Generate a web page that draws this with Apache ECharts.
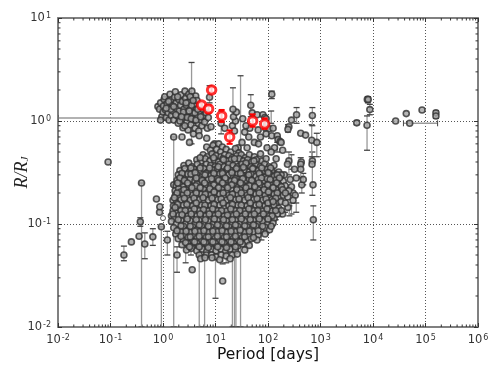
<!DOCTYPE html>
<html lang="en">
  <head>
    <meta charset="UTF-8" />
    <title>Period vs radius</title>
    <style>
      html, body { margin: 0; padding: 0; background: #fff; }
      #app { width: 498px; height: 375px; }
    </style>
  </head>
  <body>
    <div id="app"></div>
    <script src="https://cdn.jsdelivr.net/npm/echarts@6/dist/echarts.min.js"></script>
    <script>
      // [period, radius]
      var shortPeriod = [
        [0.09,0.4],[0.39,0.25],[0.18,0.05],[0.25,0.067],[0.35,0.076],[0.37,0.105],[0.45,0.064],[0.64,0.075],
        [0.93,0.094],[0.86,0.13],[0.87,0.147],[0.75,0.175],[1.21,0.07],[1.85,0.05],[3.6,0.036],[13.7,0.028],
        [1.6,0.24],[1.6,0.7]
      ]
      var openPoints = [[1.0,0.114]]

      var upperCloud = [
        [0.8,1.38],[0.86,1.3],[0.9,1.5],[0.95,1.1],[0.9,1.02],[1.0,1.22],[1.02,1.4],[1.05,1.62],[1.08,1.72],[1.12,1.28],
        [1.15,1.08],[1.2,1.48],[1.25,1.2],[1.3,1.02],[1.32,1.35],[1.36,1.82],[1.42,1.6],[1.45,1.13],[1.5,1.42],[1.55,1.25],
        [1.6,1.02],[1.66,1.7],[1.72,1.92],[1.78,1.5],[1.82,1.32],[1.9,1.12],[1.95,0.95],[2.0,1.62],[2.05,1.25],[2.15,1.42],
        [2.2,1.8],[2.3,1.05],[2.35,1.55],[2.4,0.86],[2.5,1.3],[2.55,1.15],[2.62,1.95],[2.7,1.66],[2.8,1.42],[2.85,0.98],
        [2.95,1.22],[3.0,0.82],[3.1,1.82],[3.2,1.55],[3.25,1.08],[3.35,1.32],[3.4,0.92],[3.55,1.95],[3.6,1.68],[3.7,1.2],
        [3.8,0.75],[3.9,1.45],[4.0,1.02],[4.1,0.85],[4.2,1.75],[4.3,1.3],[4.45,1.58],[4.55,1.12],[4.7,0.95],[4.8,0.8],
        [4.95,1.42],[5.1,1.22],[5.3,1.02],[5.5,0.9],[5.7,1.3],[5.9,1.13],[6.2,0.98],[6.6,1.2],[7.0,0.85],[7.3,1.08],
        [2.1,1.0],[2.6,0.9],[3.05,1.52],[3.3,1.72],[1.75,1.15],[2.45,1.22],[2.9,1.08],[3.5,1.42],[4.05,1.2],[1.4,1.3],
        [1.15,1.33],[1.28,1.55],[1.6,1.38],[1.9,1.72],[2.25,1.1],[2.75,1.5],[3.15,1.25],[3.45,1.05],[3.75,1.58],[4.25,1.02],[4.6,1.3],[5.2,1.1]
      ]
      var middleScatter = [
        [3.2,0.62],[2.3,0.7],[4.9,0.72],[6.8,0.68],[8.2,0.88],[7.7,1.7],[6.8,0.56],[9.6,0.6],[12.8,0.95],[15,0.85],
        [21,0.9],[23,0.8],[27,0.55],[24,1.0],[22,1.1],[25,1.22],[21.5,1.3],[47,1.42],[50,1.2],[45,0.85],
        [43,0.7],[32,0.62],[38,0.9],[55,0.62],[40,0.55],[65,0.82],[72,0.7],[66,0.6],[33,1.05],[36,0.78],
        [118,1.82],[62,1.15],[80,1.15],[87,1.08],[92,1.05],[93,0.92],[90,0.85],[105,0.84],[125,0.85],[92,0.75],
        [118,0.72],[150,0.72],[155,0.66],[170,0.63],[178,0.62],[280,1.02],[250,0.88],[240,0.83],[350,1.15],[420,0.76],
        [520,0.73],[96,0.55],[133,0.55],[143,0.43],[190,0.52],[250,0.41],[235,0.38],[430,0.4],[420,0.38],[320,0.34],
        [345,0.28],[440,0.24],[205,0.3],[135,0.31],[150,0.26],[95,0.33],[115,0.5],
        [300,0.2],[330,0.19],[280,0.23],[265,0.27],[300,0.17],[240,0.145],[190,0.125]
      ]
      var lowerCloud = [
        [9.0,0.58],[11.5,0.6],[13.5,0.56],[8.0,0.52],[10.5,0.53],[12.5,0.5],[16,0.53],[19.5,0.5],[24,0.54],[28,0.49],
        [5.8,0.47],[7,0.45],[8.6,0.48],[10.2,0.46],[12.7,0.45],[15,0.47],[18,0.46],[21,0.44],[25.5,0.46],[31,0.47],[37,0.44],[44,0.47],[55,0.45],[72,0.48],
        [4.4,0.42],[5.2,0.4],[6.4,0.43],[7.8,0.41],[9.5,0.42],[11.4,0.4],[13.8,0.43],[16.5,0.41],[20,0.42],[24,0.4],[28,0.43],[34,0.41],[41,0.42],[49,0.4],[60,0.42],[78,0.41],[92,0.43],
        [2.5,0.37],[3.1,0.39],[3.6,0.36],[4.5,0.38],[5.5,0.36],[6.7,0.38],[8.1,0.37],[9.8,0.36],[12.2,0.38],[14.6,0.36],[18,0.38],[21.5,0.37],[26.5,0.36],[32,0.38],[39,0.37],[47,0.36],[58,0.38],[71,0.36],[86,0.38],[105,0.36],[130,0.37],
        [2.1,0.33],[2.6,0.345],[3.2,0.32],[3.9,0.34],[4.8,0.33],[6,0.345],[7.2,0.32],[8.9,0.335],[10.9,0.345],[13.2,0.32],[16.4,0.34],[19.8,0.33],[24,0.32],[29,0.34],[36,0.335],[44,0.32],[53,0.345],[65,0.33],[79,0.32],[97,0.34],[118,0.33],[160,0.32],
        [1.95,0.3],[2.4,0.285],[2.95,0.305],[3.65,0.29],[4.45,0.3],[5.4,0.285],[6.6,0.31],[8.1,0.295],[9.9,0.285],[12,0.305],[14.7,0.29],[18,0.3],[22,0.285],[26.5,0.31],[32.5,0.295],[40,0.285],[48,0.305],[59,0.29],[72,0.3],[88,0.285],[107,0.305],[131,0.29],[178,0.3],
        [1.85,0.265],[2.25,0.275],[2.75,0.255],[3.3,0.27],[4.05,0.26],[4.9,0.275],[6.1,0.255],[7.3,0.27],[8.9,0.26],[10.9,0.275],[13.3,0.255],[16.2,0.27],[19.8,0.26],[24,0.275],[29.5,0.255],[36,0.265],[44,0.275],[53,0.255],[65,0.27],[79,0.26],[97,0.275],[118,0.255],[144,0.27],[195,0.26],
        [1.78,0.235],[2.05,0.245],[2.45,0.23],[3.05,0.24],[3.65,0.23],[4.45,0.245],[5.45,0.225],[6.6,0.24],[8.1,0.23],[9.9,0.245],[12.1,0.225],[14.7,0.24],[18,0.23],[22,0.245],[26.5,0.225],[32.5,0.24],[40,0.23],[48,0.245],[59,0.225],[72,0.24],[88,0.23],[107,0.245],[131,0.225],[160,0.24],[212,0.235],
        [1.7,0.21],[1.98,0.22],[2.2,0.205],[2.7,0.215],[3.3,0.205],[4,0.22],[4.9,0.2],[6,0.215],[7.3,0.205],[8.9,0.22],[10.9,0.2],[13.3,0.215],[16.2,0.205],[19.8,0.22],[24,0.2],[29,0.215],[36,0.205],[44,0.22],[53,0.2],[65,0.215],[79,0.205],[97,0.22],[118,0.2],[144,0.215],[176,0.205],[250,0.21],
        [1.72,0.19],[2.0,0.18],[2.45,0.195],[3.0,0.18],[3.65,0.19],[4.45,0.178],[5.4,0.195],[6.6,0.182],[8.1,0.19],[9.9,0.178],[12,0.195],[14.7,0.182],[18,0.19],[22,0.178],[26.5,0.195],[32.5,0.182],[40,0.19],[48,0.178],[59,0.195],[72,0.182],[88,0.19],[107,0.178],[131,0.195],[160,0.182],[195,0.19],[238,0.183],
        [1.55,0.17],[1.8,0.16],[2.2,0.172],[2.7,0.16],[3.3,0.17],[4,0.158],[4.9,0.172],[6,0.16],[7.3,0.17],[8.9,0.158],[10.9,0.172],[13.3,0.16],[16.2,0.17],[19.8,0.158],[24,0.172],[29,0.16],[36,0.17],[44,0.158],[53,0.172],[65,0.16],[79,0.17],[97,0.158],[118,0.172],[144,0.16],[176,0.165],[215,0.16],
        [1.58,0.15],[1.98,0.142],[2.45,0.152],[3,0.14],[3.65,0.15],[4.45,0.14],[5.4,0.152],[6.6,0.142],[8.1,0.15],[9.9,0.14],[12,0.152],[14.7,0.142],[18,0.15],[22,0.14],[26.5,0.152],[32.5,0.142],[40,0.15],[48,0.14],[59,0.152],[72,0.142],[88,0.15],[107,0.14],[131,0.152],[160,0.142],[180,0.135],
        [1.55,0.134],[1.8,0.127],[2.2,0.135],[2.7,0.125],[3.3,0.133],[4,0.125],[4.9,0.135],[6,0.127],[7.3,0.134],[8.9,0.125],[10.9,0.135],[13.3,0.127],[16.2,0.133],[19.8,0.125],[24,0.135],[29,0.127],[36,0.133],[44,0.125],[53,0.135],[65,0.127],[79,0.133],[97,0.125],[118,0.133],[150,0.125],
        [1.45,0.12],[1.65,0.113],[2,0.121],[2.45,0.112],[3,0.12],[3.65,0.111],[4.45,0.12],[5.4,0.113],[6.6,0.12],[8.1,0.111],[9.9,0.121],[12,0.113],[14.7,0.12],[18,0.111],[22,0.121],[26.5,0.113],[32.5,0.12],[40,0.111],[48,0.121],[59,0.113],[72,0.12],[88,0.111],[107,0.12],[131,0.113],
        [1.45,0.106],[1.8,0.1],[2.2,0.108],[2.7,0.1],[3.3,0.107],[4,0.099],[4.9,0.108],[6,0.1],[7.3,0.106],[8.9,0.099],[10.9,0.108],[13.3,0.1],[16.2,0.107],[19.8,0.099],[24,0.108],[29,0.1],[36,0.106],[44,0.099],[53,0.108],[65,0.1],[79,0.106],[97,0.099],[125,0.102],
        [1.6,0.092],[2,0.088],[2.45,0.095],[3,0.087],[3.65,0.094],[4.45,0.088],[5.4,0.095],[6.6,0.087],[8.1,0.094],[9.9,0.088],[12,0.095],[14.7,0.087],[18,0.094],[22,0.088],[26.5,0.095],[32.5,0.087],[40,0.094],[48,0.088],[59,0.095],[72,0.087],[88,0.093],[107,0.088],
        [1.75,0.08],[2.2,0.084],[2.7,0.078],[3.3,0.083],[4,0.077],[4.9,0.084],[6,0.078],[7.3,0.083],[8.9,0.077],[10.9,0.084],[13.3,0.078],[16.2,0.083],[19.8,0.077],[24,0.084],[29,0.078],[36,0.083],[44,0.077],[53,0.084],[65,0.078],[88,0.08],
        [1.95,0.072],[2.45,0.069],[3,0.074],[3.65,0.068],[4.45,0.073],[5.4,0.069],[6.6,0.074],[8.1,0.068],[9.9,0.073],[12,0.069],[14.7,0.074],[18,0.068],[22,0.073],[26.5,0.069],[32.5,0.074],[40,0.068],[48,0.072],[62,0.07],
        [2.3,0.063],[2.95,0.065],[3.65,0.061],[4.45,0.065],[5.4,0.061],[6.6,0.065],[8.1,0.061],[9.9,0.065],[12,0.061],[14.7,0.065],[18,0.061],[22,0.065],[26.5,0.061],[32.5,0.064],[44,0.062],
        [2.8,0.056],[3.5,0.058],[4.4,0.055],[5.6,0.057],[6.8,0.054],[8.3,0.057],[10.2,0.055],[12.8,0.057],[15.5,0.054],[19,0.057],[24,0.055],[36,0.056],
        [4.9,0.05],[5.2,0.046],[6.7,0.05],[8.4,0.05],[10.3,0.048],[12.9,0.05],[16,0.049],[21,0.05],[26,0.051],[6.3,0.047],[8.6,0.047],[12,0.045],[19,0.046]
      ]
      // second pass over the dense part of the cloud
      var lowerCloudDense = [
        [5.1,0.44],[9.2,0.44],[14.2,0.42],[23,0.43],[38,0.39],[54,0.41],[3.4,0.35],[5.1,0.35],[7.7,0.35],[11.3,0.36],[17,0.35],[25,0.345],[34,0.355],[51,0.345],[76,0.35],[112,0.35],
        [2.3,0.31],[3.4,0.305],[4.1,0.315],[6.3,0.3],[9.3,0.31],[13.6,0.31],[20.5,0.315],[30,0.31],[43,0.3],[68,0.31],[101,0.315],[150,0.3],
        [2.1,0.28],[2.55,0.265],[4.3,0.28],[5.6,0.265],[8.4,0.275],[11.5,0.265],[15.3,0.28],[23,0.265],[33,0.275],[49,0.265],[75,0.28],[110,0.27],[165,0.28],
        [1.9,0.25],[2.95,0.25],[4.2,0.235],[6.2,0.25],[9.3,0.24],[13.6,0.25],[20.3,0.24],[30,0.25],[44,0.235],[67,0.25],[99,0.24],[146,0.25],[180,0.23],
        [2.5,0.215],[3.55,0.225],[5.1,0.225],[7.8,0.22],[11.4,0.225],[17,0.225],[25.5,0.215],[38,0.225],[56,0.23],[84,0.215],[125,0.225],[190,0.215],
        [1.85,0.2],[2.9,0.2],[4.3,0.2],[6.4,0.195],[9.4,0.205],[14,0.2],[21,0.195],[31,0.2],[46,0.205],[68,0.2],[102,0.205],[150,0.2],[215,0.2],
        [1.65,0.18],[2.55,0.178],[3.9,0.178],[5.8,0.18],[8.6,0.178],[12.8,0.175],[19.2,0.18],[28,0.175],[42,0.18],[62,0.176],[92,0.175],[140,0.178],
        [1.9,0.155],[2.85,0.155],[4.3,0.16],[6.3,0.152],[9.4,0.155],[14,0.16],[21,0.155],[31,0.152],[46,0.16],[68,0.155],[100,0.16],[125,0.165],
        [1.7,0.145],[2.65,0.135],[3.95,0.14],[5.9,0.138],[8.8,0.14],[13,0.135],[19.5,0.14],[29,0.135],[43,0.14],[64,0.135],[96,0.14],[140,0.135],
        [1.55,0.125],[2.3,0.123],[3.45,0.125],[5.1,0.125],[7.6,0.125],[11.3,0.125],[16.9,0.122],[25,0.125],[37,0.125],[55,0.125],[82,0.125],[120,0.12],
        [1.95,0.11],[2.9,0.112],[4.3,0.11],[6.4,0.11],[9.5,0.112],[14.2,0.11],[21,0.11],[31,0.112],[46,0.11],[68,0.112],[100,0.112],
        [2.2,0.096],[3.3,0.095],[4.9,0.098],[7.3,0.095],[10.9,0.098],[16.2,0.096],[24,0.098],[36,0.096],[53,0.098],[79,0.095],[115,0.095],
        [1.85,0.086],[2.75,0.085],[4.05,0.085],[6,0.086],[8.9,0.085],[13.3,0.086],[19.8,0.085],[29.5,0.087],[44,0.085],[65,0.086],
        [2.2,0.076],[3.3,0.075],[4.9,0.076],[7.3,0.075],[10.9,0.076],[16.2,0.075],[24,0.076],[36,0.075],[53,0.074],
        [2.7,0.066],[4,0.067],[6,0.067],[8.9,0.067],[13.3,0.067],[19.8,0.067],[29.5,0.067],
        [3.2,0.06],[4.9,0.06],[7.3,0.059],[11,0.06],[16.2,0.059],[24,0.06]
      ]
      var longPeriod = [
        [4900,0.96],[7800,1.62],[8100,1.62],[8700,1.29],[7700,0.91],[27000,1.0],[43000,1.18],[50000,0.95],[86000,1.28],[158000,1.2],[158000,1.12],
        [700,1.13],[680,0.65],[850,0.62],[700,0.41],[690,0.38],[720,0.24],[730,0.11],[420,0.34],[470,0.27]
      ]
      var highlighted = [[5.43,1.43],[7.38,1.31],[8.43,2.0],[13.1,1.12],[18.6,0.7],[51,1.0],[86.5,0.935]]
      var highlightedErr = [[5.43,1.3,1.5],[7.38,1.2,1.42],[8.43,1.9,2.12],[13.1,0.98,1.28],[18.6,0.6,0.81],[51,0.88,1.16],[86.5,0.84,1.06]]

      // [period, low, high]
      var errBars = [
        [0.39,0.01,0.25],[0.37,0.095,0.115],[0.18,0.044,0.061],[0.45,0.046,0.082],[0.64,0.062,0.09],[0.93,0.01,0.094],
        [1.21,0.05,0.085],[1.6,0.01,0.7],[1.85,0.034,0.06],[4.9,0.01,0.06],[6.2,0.01,0.06],[10,0.019,0.065],
        [21,0.01,0.08],[23,0.01,0.08],[24.5,0.01,0.08],[30,0.01,0.07],[2.7,0.042,0.07],[3.4,0.05,0.07],[5.3,0.05,0.07],
        [3.5,0.6,3.7],[21.5,0.95,2.1],[30,0.2,2.75],[12.8,0.75,1.25],[7.7,1.5,2.2],[47,1.1,1.8],
        [13.7,0.041,0.06],[16,0.042,0.055],[36,0.06,0.09],[45,0.08,0.1],[58,0.075,0.1],[75,0.07,0.1],[95,0.082,0.11],
        [120,0.095,0.125],[165,0.118,0.14],[280,0.125,0.16],[255,0.12,0.15],[210,0.13,0.17],[140,0.11,0.15],[120,0.16,0.2],
        [730,0.07,0.15],[700,0.19,0.5],[680,0.45,0.92],[850,0.45,0.76],[700,0.9,1.35],[7700,0.52,1.12],[8700,1.15,1.45],
        [8000,1.5,1.72],[440,0.2,0.29],[470,0.24,0.31],[420,0.28,0.44],[345,0.13,0.16],[280,0.34,0.47],[250,0.3,0.5],
        [150,0.5,0.62],[240,0.78,0.92],[350,0.95,1.35],[115,0.95,1.25],[118,1.65,1.95],[4900,0.92,1.01],[158000,1.06,1.26]
      ]
      // [radius, low, high]
      var errBarsX = [[1.07,0.01,1.05],[0.95,38000,170000]]
      var minorSteps = [2, 3, 4, 5, 6, 7, 8, 9]
      var xDecades = [0.01, 0.1, 1, 10, 100, 1000, 10000, 100000]
      var yDecades = [0.01, 0.1, 1]

      var tickFormat = function (v) {
        return '{b|10}{s|' + Math.round(Math.log10(v)) + '}'
      }
      var tickRich = {
        b: { fontSize: 11.5, color: '#333', fontFamily: 'DejaVu Sans' },
        s: { fontSize: 8, color: '#333', fontFamily: 'DejaVu Sans', verticalAlign: 'top', padding: [0, 0, 5, 1] }
      }
      var axisBase = function (pos, showLabel, min, max) {
        return {
          type: 'log',
          logBase: 10,
          position: pos,
          min: min,
          max: max,
          axisLine: { show: true, onZero: false, lineStyle: { color: '#808080', width: 2 } },
          axisTick: { show: true, inside: true, length: 4, lineStyle: { color: '#333', width: 1 } },
          axisLabel: { show: showLabel, formatter: tickFormat, rich: tickRich, margin: 7, hideOverlap: false },
          splitLine: { show: showLabel, lineStyle: { color: '#555', type: [1, 2], width: 1 } }
        }
      }

      var xMain = axisBase('bottom', true, 0.01, 1000000)
      xMain.name = 'Period [days]'
      xMain.nameLocation = 'middle'
      xMain.nameGap = 20
      xMain.nameMoveOverlap = false
      xMain.nameTextStyle = { fontSize: 15.5, color: '#111', fontFamily: 'DejaVu Sans' }

      var yMain = axisBase('left', true, 0.01, 10)
      yMain.name = '{r|R/R}{j|J}'
      yMain.nameLocation = 'middle'
      yMain.nameGap = 27
      yMain.nameMoveOverlap = false
      yMain.nameTextStyle = {
        rich: {
          r: { fontSize: 18, fontStyle: 'italic', fontFamily: 'Liberation Serif', color: '#222' },
          j: { fontSize: 11, fontStyle: 'italic', fontFamily: 'Liberation Serif', color: '#222', verticalAlign: 'bottom', padding: [6, 0, 0, 0] }
        }
      }

      var symbolStyle = { color: '#a6a6a6', borderColor: '#333', borderWidth: 1.6, opacity: 0.82 }

      function errorItem(color, capColor, width) {
        return function (params, api) {
          var top = api.coord([api.value(0), api.value(2)])
          var bottom = api.coord([api.value(0), api.value(1)])
          var cap = 3
          return {
            type: 'group',
            children: [
              { type: 'line', shape: { x1: top[0], y1: top[1], x2: bottom[0], y2: bottom[1] }, style: { stroke: color, lineWidth: width } },
              { type: 'line', shape: { x1: top[0] - cap, y1: top[1], x2: top[0] + cap, y2: top[1] }, style: { stroke: capColor, lineWidth: width } },
              { type: 'line', shape: { x1: bottom[0] - cap, y1: bottom[1], x2: bottom[0] + cap, y2: bottom[1] }, style: { stroke: capColor, lineWidth: width } }
            ]
          }
        }
      }
      function errorItemX(params, api) {
        var a = api.coord([api.value(1), api.value(0)])
        var b = api.coord([api.value(2), api.value(0)])
        return {
          type: 'group',
          children: [
            { type: 'line', shape: { x1: a[0], y1: a[1], x2: b[0], y2: b[1] }, style: { stroke: '#999', lineWidth: 1.5 } },
            { type: 'line', shape: { x1: a[0], y1: a[1] - 3, x2: a[0], y2: a[1] + 3 }, style: { stroke: '#444', lineWidth: 1 } },
            { type: 'line', shape: { x1: b[0], y1: b[1] - 3, x2: b[0], y2: b[1] + 3 }, style: { stroke: '#444', lineWidth: 1 } }
          ]
        }
      }

      // the log axis gives no minor ticks here, so draw them through the scale on all four sides
      var xMinor = []
      xDecades.forEach(function (d) {
        minorSteps.forEach(function (s) { xMinor.push([d * s]) })
      })
      var yMinor = []
      yDecades.forEach(function (d) {
        minorSteps.forEach(function (s) { yMinor.push([d * s]) })
      })
      function minorX(params, api) {
        var v = api.value(0)
        var lo = api.coord([v, 0.01])
        var hi = api.coord([v, 10])
        return {
          type: 'group',
          children: [
            { type: 'line', shape: { x1: lo[0], y1: lo[1], x2: lo[0], y2: lo[1] - 2.5 }, style: { stroke: '#333', lineWidth: 1 } },
            { type: 'line', shape: { x1: hi[0], y1: hi[1], x2: hi[0], y2: hi[1] + 2.5 }, style: { stroke: '#333', lineWidth: 1 } }
          ]
        }
      }
      function minorY(params, api) {
        var v = api.value(0)
        var lo = api.coord([0.01, v])
        var hi = api.coord([1000000, v])
        return {
          type: 'group',
          children: [
            { type: 'line', shape: { x1: lo[0], y1: lo[1], x2: lo[0] + 2.5, y2: lo[1] }, style: { stroke: '#333', lineWidth: 1 } },
            { type: 'line', shape: { x1: hi[0], y1: hi[1], x2: hi[0] - 2.5, y2: hi[1] }, style: { stroke: '#333', lineWidth: 1 } }
          ]
        }
      }

      var scatterOf = function (data, z) {
        return { type: 'scatter', data: data, symbolSize: 6, itemStyle: symbolStyle, z: z, silent: true, animation: false }
      }

      var chart = echarts.init(document.getElementById('app'), null, { renderer: 'canvas' })
      chart.setOption({
        animation: false,
        backgroundColor: '#fff',
        grid: { left: 58, right: 20, top: 18, bottom: 48, outerBoundsMode: 'none' },
        xAxis: [xMain, axisBase('top', false, 0.01, 1000000)],
        yAxis: [yMain, axisBase('right', false, 0.01, 10)],
        series: [
          { type: 'custom', renderItem: minorX, data: xMinor, encode: { x: 0 }, z: 1, silent: true },
          { type: 'custom', renderItem: minorY, data: yMinor, encode: { y: 0 }, z: 1, silent: true },
          { type: 'custom', clip: true, renderItem: errorItem('#999', '#444', 1.3), data: errBars, encode: { x: 0, y: [1, 2] }, z: 2, silent: true },
          { type: 'custom', clip: true, renderItem: errorItemX, data: errBarsX, encode: { x: [1, 2], y: 0 }, z: 2, silent: true },
          scatterOf(shortPeriod, 3),
          scatterOf(upperCloud, 3),
          scatterOf(middleScatter, 3),
          scatterOf(lowerCloud, 3),
          scatterOf(lowerCloudDense, 3),
          scatterOf(longPeriod, 3),
          {
            type: 'scatter',
            data: openPoints,
            symbolSize: 5,
            itemStyle: { color: '#fff', borderColor: '#333', borderWidth: 1 },
            z: 4,
            silent: true
          },
          { type: 'custom', clip: true, renderItem: errorItem('#f00', '#f00', 2), data: highlightedErr, encode: { x: 0, y: [1, 2] }, z: 5, silent: true },
          {
            type: 'scatter',
            data: highlighted,
            symbolSize: 8.5,
            itemStyle: { color: '#fff', borderColor: '#f00', borderWidth: 3 },
            z: 6,
            silent: true
          }
        ]
      })
    </script>
  </body>
</html>
